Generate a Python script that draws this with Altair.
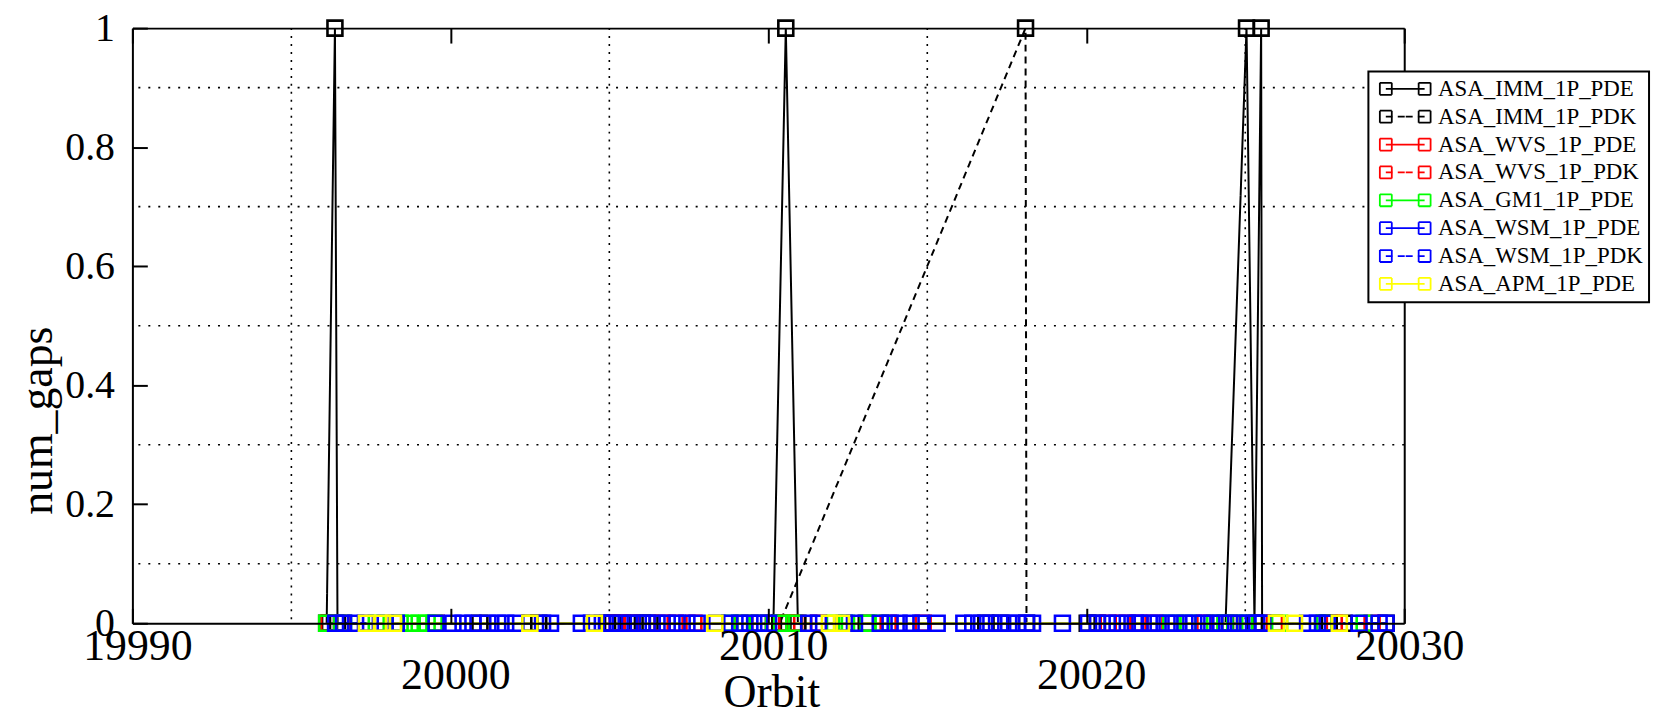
import altair as alt
import pandas as pd

# ---------------- data ----------------
SERIES = ["ASA_IMM_1P_PDE", "ASA_IMM_1P_PDK", "ASA_WVS_1P_PDE", "ASA_WVS_1P_PDK",
          "ASA_GM1_1P_PDE", "ASA_WSM_1P_PDE", "ASA_WSM_1P_PDK", "ASA_APM_1P_PDE"]
COLORS = ["#000000", "#000000", "#ff0000", "#ff0000", "#00ff00", "#0000ff", "#0000ff", "#ffff00"]
LINE_TYPES = ["solid", "dashed", "solid", "dashed", "solid", "solid", "dashed", "solid"]

IMM_PDE_ORBIT = [19996.11, 19996.37, 19996.45, 20000.93, 20002.50, 20004.94, 20005.41, 20005.72,
                 20010.16, 20010.55, 20010.93, 20013.08, 20016.84, 20017.31, 20020.03,
                 20024.38, 20025.04, 20025.29, 20025.50, 20025.53, 20027.49, 20028.11, 20029.43]
IMM_PDE_GAPS = [0, 1, 0, 0, 0, 0, 0, 0,
                0, 1, 0, 0, 0, 0, 0,
                0, 1, 0, 1, 0, 0, 0, 0]

IMM_PDK_ORBIT = [19996.20, 20002.78, 20005.10, 20006.04, 20006.28, 20010.36, 20018.09, 20018.12,
                 20020.35, 20027.64]
IMM_PDK_GAPS = [0, 0, 0, 0, 0, 0, 1, 0, 0, 0]

WVS_PDE_ORBIT = [19996.17, 19999.55, 20005.25, 20006.66, 20007.66, 20009.23, 20010.58, 20011.58,
                 20013.77, 20020.69, 20021.63, 20023.73, 20025.92, 20028.99]
WVS_PDE_GAPS = [0, 0, 0, 0, 0, 0, 0, 0, 0, 0, 0, 0, 0, 0]

WVS_PDK_ORBIT = [19996.58, 20005.66, 20007.07, 20009.73, 20010.83, 20014.87, 20021.16, 20022.16,
                 20024.51, 20027.80]
WVS_PDK_GAPS = [0, 0, 0, 0, 0, 0, 0, 0, 0, 0]

GM1_PDE_ORBIT = [19996.11, 19996.64, 19997.67, 19998.42, 19998.74, 19999.02, 19999.27, 19999.49,
                 20008.79, 20009.17, 20009.70, 20010.42, 20010.80, 20012.08, 20012.46, 20013.14,
                 20013.55, 20022.66, 20023.20, 20024.04, 20024.36, 20024.67, 20024.98, 20026.08,
                 20027.49, 20028.74]
GM1_PDE_GAPS = [0, 0, 0, 0, 0, 0, 0, 0,
                0, 0, 0, 0, 0, 0, 0, 0,
                0, 0, 0, 0, 0, 0, 0, 0,
                0, 0]

WSM_PDE_ORBIT = [19996.39, 19997.02, 19997.95, 19999.55, 20000.08, 20000.71, 20001.49, 20002.06,
                 20002.90, 20004.12, 20004.78, 20005.34, 20005.91, 20006.50, 20007.13, 20007.76,
                 20008.79, 20009.42, 20010.01, 20011.27, 20012.39, 20013.52, 20014.11, 20014.80,
                 20016.15, 20016.71, 20017.28, 20017.84, 20018.31, 20020.07, 20020.66, 20021.29,
                 20021.69, 20022.26, 20022.82, 20023.38, 20023.95, 20024.51, 20025.08, 20025.55,
                 20026.96, 20027.58, 20029.21]
WSM_PDE_GAPS = [0, 0, 0, 0, 0, 0, 0, 0,
                0, 0, 0, 0, 0, 0, 0, 0,
                0, 0, 0, 0, 0, 0, 0, 0,
                0, 0, 0, 0, 0, 0, 0, 0,
                0, 0, 0, 0, 0, 0, 0, 0,
                0, 0, 0]

WSM_PDK_ORBIT = [19996.64, 19997.33, 19998.30, 20000.40, 20001.18, 20001.74, 20003.15, 20004.44,
                 20005.06, 20005.63, 20006.19, 20006.82, 20007.44, 20008.38, 20009.10, 20009.73,
                 20011.58, 20012.71, 20013.83, 20014.49, 20015.31, 20016.43, 20017.00, 20017.56,
                 20018.12, 20019.25, 20020.35, 20020.97, 20021.54, 20021.98, 20022.54, 20023.10,
                 20023.67, 20024.23, 20024.79, 20025.36, 20027.27, 20028.58, 20029.43]
WSM_PDK_GAPS = [0, 0, 0, 0, 0, 0, 0, 0,
                0, 0, 0, 0, 0, 0, 0, 0,
                0, 0, 0, 0, 0, 0, 0, 0,
                0, 0, 0, 0, 0, 0, 0, 0,
                0, 0, 0, 0, 0, 0, 0]

APM_PDE_ORBIT = [19997.36, 19997.86, 19998.21, 20002.50, 20004.53, 20008.32, 20011.92, 20012.30,
                 20025.98, 20026.55, 20027.96]
APM_PDE_GAPS = [0, 0, 0, 0, 0, 0, 0, 0, 0, 0, 0]

X_TICKS = [19990, 20000, 20010, 20020, 20030]
Y_TICKS = [0, 0.2, 0.4, 0.6, 0.8, 1.0]
X_GRID = [19995, 20005, 20015, 20025]
Y_GRID = [0.1, 0.3, 0.5, 0.7, 0.9]

ORBITS = [IMM_PDE_ORBIT, IMM_PDK_ORBIT, WVS_PDE_ORBIT, WVS_PDK_ORBIT,
          GM1_PDE_ORBIT, WSM_PDE_ORBIT, WSM_PDK_ORBIT, APM_PDE_ORBIT]
GAPS = [IMM_PDE_GAPS, IMM_PDK_GAPS, WVS_PDE_GAPS, WVS_PDK_GAPS,
        GM1_PDE_GAPS, WSM_PDE_GAPS, WSM_PDK_GAPS, APM_PDE_GAPS]

rows = []
for name, orbits, gaps in zip(SERIES, ORBITS, GAPS):
    for i, (o, g) in enumerate(zip(orbits, gaps)):
        rows.append({"series": name, "orbit": o, "num_gaps": g, "idx": i})
df = pd.DataFrame(rows)

# legend symbol: square - line - square, built from short sub-paths so that a
# dash pattern only breaks the connecting line (unit = half a square side)
LEGEND_SYMBOL = (
    "M-1,-1H0 M1,-1H0 M1,-1V0 M1,1V0 M1,1H0 M-1,1H0 M-1,1V0 M-1,-1V0 "
    "M0,0H3.25 M6.5,0H3.25 "
    "M5.5,-1H6.5 M7.5,-1H6.5 M7.5,-1V0 M7.5,1V0 M7.5,1H6.5 M5.5,1H6.5 M5.5,1V0 M5.5,-1V0"
)
DASH_PATTERNS = [[1, 0] if t == "solid" else [7, 5] for t in LINE_TYPES]

FONT = "Liberation Serif"
W, H = 1278, 598

xs = alt.Scale(domain=[19990, 20030], nice=False, zero=False)
ys = alt.Scale(domain=[0, 1], nice=False, zero=False)
cs = alt.Scale(domain=SERIES, range=COLORS)
ds = alt.Scale(domain=SERIES, range=DASH_PATTERNS)

common_axis = dict(domainColor="black", domainWidth=2, tickColor="black", tickWidth=2,
                   tickSize={"expr": "-15"}, grid=False, zindex=1)

leg_def = dict(title=None, orient="none", legendX=1242, legendY=43.5,
               symbolType=LEGEND_SYMBOL, symbolSize=144, symbolStrokeWidth=1.8,
               symbolFillColor="transparent",
               labelFont=FONT, labelFontSize=23, labelColor="black",
               labelOffset=41, labelLimit=0, padding=6, rowPadding=4,
               strokeColor="black", fillColor="white", zindex=2)

vgrid = alt.Chart(pd.DataFrame({"orbit": X_GRID})).mark_rule(
    color="black", strokeDash=[2, 6], strokeWidth=1.6
).encode(x=alt.X("orbit:Q", scale=xs, axis=None))

hgrid = alt.Chart(pd.DataFrame({"num_gaps": Y_GRID})).mark_rule(
    color="black", strokeDash=[2, 8], strokeWidth=1.6
).encode(y=alt.Y("num_gaps:Q", scale=ys, axis=None))

lines = alt.Chart(df).mark_line(strokeWidth=2).encode(
    x=alt.X("orbit:Q", scale=xs, axis=alt.Axis(
        orient="bottom", values=X_TICKS, format="d", title="Orbit",
        labelFont=FONT, labelFontSize=44, labelColor="black", labelPadding=16,
        labelFlush=False, labelOverlap=False, labelLineHeight=29.5, labelOffset=5,
        labelExpr="(datum.value == 20000 || datum.value == 20020) ? ['', datum.label] : datum.label",
        titleFont=FONT, titleFontSize=46, titleFontWeight="normal", titleColor="black",
        titleX=642, titleY=84, titleBaseline="alphabetic", **common_axis)),
    y=alt.Y("num_gaps:Q", scale=ys, axis=alt.Axis(
        orient="left", values=Y_TICKS, format="~g", title="num_gaps",
        labelFont=FONT, labelFontSize=40, labelColor="black", labelPadding=33,
        labelFlush=False, labelOverlap=False,
        titleFont=FONT, titleFontSize=46, titleFontWeight="normal", titleColor="black",
        titleX=-95, titleY=394, titleAngle=270, titleBaseline="middle", **common_axis)),
    color=alt.Color("series:N", scale=cs, legend=alt.Legend(**leg_def)),
    strokeDash=alt.StrokeDash("series:N", scale=ds, legend=alt.Legend(**leg_def)),
    order="idx:Q",
)

points = alt.Chart(df).mark_point(shape="square", filled=False, size=225, strokeWidth=2.6, opacity=1).encode(
    x=alt.X("orbit:Q", scale=xs, axis=alt.Axis(orient="top", values=X_TICKS, labels=False,
                                               title=None, **common_axis)),
    y=alt.Y("num_gaps:Q", scale=ys, axis=alt.Axis(orient="right", values=Y_TICKS, labels=False,
                                                  ticks=False, title=None,
                                                  domainColor="black", domainWidth=2,
                                                  grid=False, zindex=1)),
    color=alt.Color("series:N", scale=cs, legend=alt.Legend(**leg_def)),
)

chart = alt.layer(vgrid, hgrid, lines, points).resolve_axis(
    x="independent", y="independent"
).properties(
    width=W, height=H,
    autosize=alt.AutoSizeParams(type="none"),
    padding={"left": 125, "top": 18.5, "right": 254, "bottom": 95},
    background="white",
).configure_view(stroke="transparent").configure(font=FONT).configure_legend(strokeWidth=2)

chart.save("out.html", embed_options={"renderer": "svg", "actions": False})
